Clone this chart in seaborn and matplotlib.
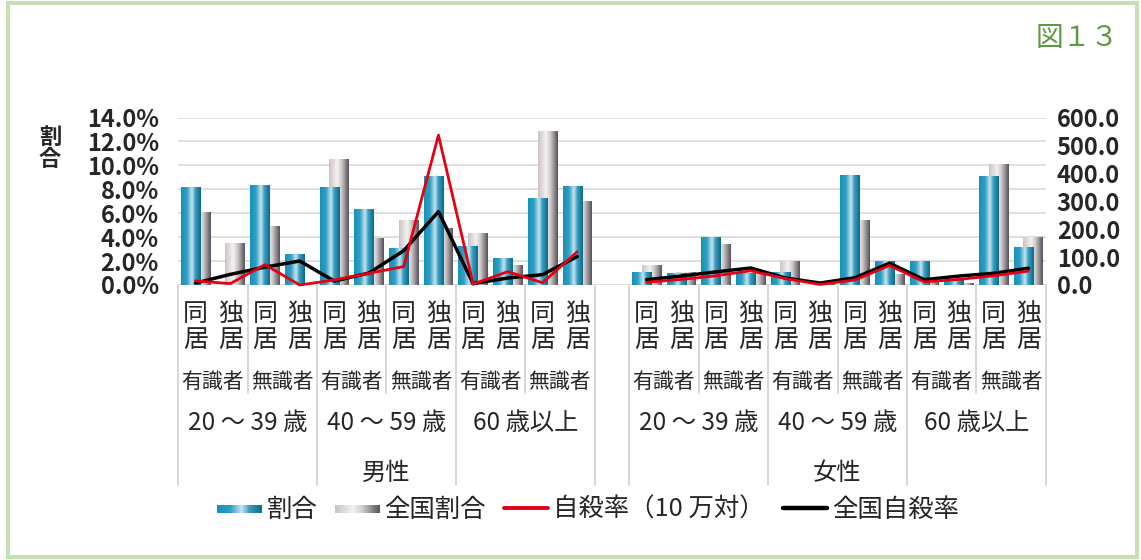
import numpy as np
import pandas as pd
import matplotlib
matplotlib.use("Agg")
import matplotlib.pyplot as plt
import seaborn as sns
from matplotlib.colors import LinearSegmentedColormap
from matplotlib.patches import Rectangle, Patch
from matplotlib.lines import Line2D
from matplotlib.legend_handler import HandlerBase
from matplotlib.image import BboxImage
from matplotlib.transforms import Bbox, TransformedBbox, blended_transform_factory

# ---------------- data ----------------
sexes = ["男性", "女性"]
ages = ["20 ～ 39 歳", "40 ～ 59 歳", "60 歳以上"]
knowledge = ["有識者", "無識者"]
living = ["同居", "独居"]

# 割合 (%)  -- men 12 then women 12
wariai = [8.15, 0.0, 8.34, 2.55, 8.16, 6.35, 3.04, 9.10, 3.20, 2.19, 7.27, 8.25,
          1.06, 1.00, 3.96, 0.97, 1.06, 0.0, 9.19, 2.00, 1.95, 0.42, 9.03, 3.12]
# 全国割合 (%)
zenkoku_wariai = [6.05, 3.45, 4.93, 0.0, 10.47, 3.92, 5.37, 4.71, 4.32, 1.59, 12.85, 6.96,
                  1.67, 1.03, 3.37, 0.97, 1.98, 0.06, 5.38, 0.84, 0.28, 0.12, 10.03, 3.96]
# 自殺率（10万対）
jisatsu = [15, 5, 73, 0, 18, 42, 66, 537, 3, 48, 8, 119,
           10, 20, 33, 51, 23, 2, 18, 70, 11, 20, 33, 50]
# 全国自殺率
zenkoku_jisatsu = [7, 38, 64, 86, 14, 43, 123, 263, 5, 25, 37, 102,
                   19, 32, 47, 61, 25, 7, 26, 78, 19, 32, 42, 60]

# ---------------- table ----------------
rows = []
for si, s in enumerate(sexes):
    for ai, a in enumerate(ages):
        for ki, k in enumerate(knowledge):
            for li, l in enumerate(living):
                rows.append(dict(sex=s, age=a, know=k, live=l))
df = pd.DataFrame(rows)
df["wariai"] = wariai
df["zenkoku_wariai"] = zenkoku_wariai
df["jisatsu"] = jisatsu
df["zenkoku_jisatsu"] = zenkoku_jisatsu
n_per_sex = len(ages) * len(knowledge) * len(living)
# slot position: women shifted by one empty slot
df["slot"] = [i if i < n_per_sex else i + 1 for i in range(len(df))]
n_slots = len(df) + 1

BAR_W = 0.57
OFF = 0.14
df["x_blue"] = df["slot"] - OFF
df["x_gray"] = df["slot"] + OFF

# ---------------- style ----------------
sns.set_theme(style="white")
plt.rcParams["font.family"] = ["Noto Sans CJK JP", "DejaVu Sans"]

W, H = 1141, 560
fig = plt.figure(figsize=(W / 100, H / 100), dpi=100)
fig.patch.set_facecolor("white")

def fx(px):
    return px / W

def fy(py):
    return 1 - py / H

ax_l, ax_r, ax_t, ax_b = 178.2, 1045.7, 117.5, 285.0
ax = fig.add_axes([fx(ax_l), fy(ax_b), fx(ax_r) - fx(ax_l), (ax_b - ax_t) / H])

blue_cmap = LinearSegmentedColormap.from_list(
    "bl", [(0, "#1890b8"), (0.3, "#2f9fc3"), (0.55, "#c8e4ee"), (0.72, "#3b9ec0"), (1, "#09698a")])
gray_cmap = LinearSegmentedColormap.from_list(
    "gr", [(0, "#cbc3c3"), (0.4, "#f3f1f1"), (0.62, "#cfcbcb"), (1, "#55505a")])

n0 = len(ax.patches)
sns.barplot(data=df, x="x_gray", y="zenkoku_wariai", native_scale=True, width=BAR_W,
            color="#bbbbbb", errorbar=None, ax=ax)
gray_patches = ax.patches[n0:]
n1 = len(ax.patches)
sns.barplot(data=df, x="x_blue", y="wariai", native_scale=True, width=BAR_W,
            color="#1890b8", errorbar=None, ax=ax)
blue_patches = ax.patches[n1:]

grad = np.linspace(0, 1, 256).reshape(1, -1)
for plist, cmap, z in [(gray_patches, gray_cmap, 2.0), (blue_patches, blue_cmap, 2.1)]:
    for p in plist:
        x, w, h = p.get_x(), p.get_width(), p.get_height()
        p.set_facecolor("none")
        p.set_edgecolor("none")
        if h <= 0:
            continue
        ax.imshow(grad, cmap=cmap, extent=[x, x + w, 0, h], aspect="auto",
                  zorder=z, interpolation="bilinear")

ax.set_xlim(-0.5, n_slots - 0.5)
ax.set_ylim(0, 14)
ax.set_yticks(np.arange(0, 15, 2))
ax.set_yticklabels([f"{v:.1f}%" for v in np.arange(0, 15, 2)])
ax.set_xticks([])
ax.set_xlabel("")
ax.set_ylabel("割\n合", rotation=0, fontsize=16, linespacing=0.95, va="center", ha="center",
              fontweight="bold")
ax.yaxis.set_label_coords((50 - ax_l) / (ax_r - ax_l), 1 - (148 - ax_t) / (ax_b - ax_t))
ax.yaxis.grid(True, color="#d9d9d9", linewidth=1.2)
ax.set_axisbelow(True)
for s in ax.spines.values():
    s.set_visible(False)
ax.tick_params(axis="y", length=0, pad=14, labelsize=17)
for t in ax.get_yticklabels():
    t.set_fontweight("bold")

# secondary axis with lines
ax2 = ax.twinx()
for sx in sexes:
    sub = df[df["sex"] == sx]
    sns.lineplot(x=sub["slot"].to_numpy(), y=sub["zenkoku_jisatsu"].to_numpy(), color="black",
                 linewidth=2.5, ax=ax2, clip_on=False, zorder=3)
for sx in sexes:
    sub = df[df["sex"] == sx]
    sns.lineplot(x=sub["slot"].to_numpy(), y=sub["jisatsu"].to_numpy(), color="#e50012",
                 linewidth=2.0, ax=ax2, clip_on=False, zorder=4)
ax2.set_ylim(0, 600)
ax2.set_xlim(-0.5, n_slots - 0.5)
ax2.set_yticks(np.arange(0, 601, 100))
ax2.set_yticklabels([f"{v:.1f}" for v in np.arange(0, 601, 100)])
ax2.tick_params(axis="y", length=0, pad=8, labelsize=17)
for t in ax2.get_yticklabels():
    t.set_fontweight("bold")
ax2.set_ylabel("")
ax2.grid(False)
for s in ax2.spines.values():
    s.set_visible(False)

# ---------------- multi-level category axis ----------------
tr = blended_transform_factory(ax.transData, fig.transFigure)
sep_color = "#d4d4d4"
long_b = set([-0.5, n_slots - 0.5, n_per_sex - 0.5, n_per_sex + 0.5])
short_b = set()
per_age = len(knowledge) * len(living)
per_know = len(living)
for si in range(len(sexes)):
    base = si * (n_per_sex + 1)
    for ai in range(1, len(ages)):
        long_b.add(base + ai * per_age - 0.5)
    for ai in range(len(ages)):
        for ki in range(1, len(knowledge)):
            short_b.add(base + ai * per_age + ki * per_know - 0.5)
for b in long_b:
    ax.add_line(Line2D([b, b], [fy(ax_b), fy(485)], transform=tr, color=sep_color,
                       linewidth=1.3, clip_on=False))
for b in short_b:
    ax.add_line(Line2D([b, b], [fy(ax_b), fy(393)], transform=tr, color=sep_color,
                       linewidth=1.3, clip_on=False))

for _, r in df.iterrows():
    ax.text(r["slot"], fy(327), "\n".join(list(r["live"])), transform=tr, ha="center",
            va="center", fontsize=18, linespacing=0.98)
for (sx, ag, kn), g in df.groupby(["sex", "age", "know"], sort=False):
    ax.text(g["slot"].mean(), fy(382), kn, transform=tr, ha="center", va="center", fontsize=15)
for (sx, ag), g in df.groupby(["sex", "age"], sort=False):
    ax.text(g["slot"].mean(), fy(423), ag, transform=tr, ha="center", va="center", fontsize=17.5)
for sx, g in df.groupby("sex", sort=False):
    ax.text(g["slot"].mean(), fy(473), sx, transform=tr, ha="center", va="center", fontsize=17.5)

# ---------------- legend ----------------
class GradHandler(HandlerBase):
    def __init__(self, cmap):
        super().__init__()
        self.cmap = cmap

    def create_artists(self, legend, orig_handle, xdescent, ydescent, width, height,
                       fontsize, trans):
        hh = height * 0.42
        y0 = -ydescent + (height - hh) / 2 - height * 0.05
        bb = Bbox.from_bounds(-xdescent, y0, width, hh)
        im = BboxImage(TransformedBbox(bb, trans), cmap=self.cmap, interpolation="bilinear")
        im.set_data(grad)
        return [im]

h_blue = Patch(label="割合")
h_gray = Patch(label="全国割合")
h_red = Line2D([], [], color="#e50012", linewidth=2.8, label="自殺率（10 万対）")
h_blk = Line2D([], [], color="black", linewidth=3.2, label="全国自殺率")
fig.legend(handles=[h_blue, h_gray, h_red, h_blk], loc="center",
           bbox_to_anchor=(fx(588), fy(510)), ncol=4, frameon=False, fontsize=18.3,
           handlelength=1.75, handletextpad=0.2, columnspacing=0.7,
           handler_map={h_blue: GradHandler(blue_cmap), h_gray: GradHandler(gray_cmap)})

# ---------------- frame & title ----------------
fig.text(fx(1119), fy(38), "図１３", ha="right", va="center", color="#5b9a3e", fontsize=20)
fig.add_artist(Rectangle((fx(1120), fy(300)), fx(14), 200 / H, transform=fig.transFigure,
                         facecolor="white", edgecolor="none", zorder=20))
fig.add_artist(Rectangle((fx(8), fy(557)), fx(1137) - fx(8), (557 - 3) / H,
                         transform=fig.transFigure, fill=False, edgecolor="#c6e0b4",
                         linewidth=3, zorder=21))

fig.savefig("out.png", dpi=100, facecolor="white")
